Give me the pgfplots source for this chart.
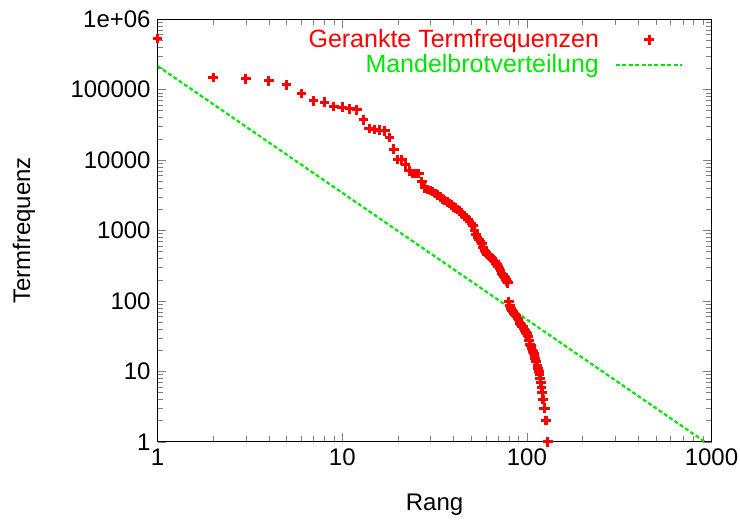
\documentclass[border=0pt]{standalone}
\usepackage{pgfplots}
\pgfplotsset{compat=1.18}
\usepackage{pgfplotstable}
\usepackage{fontspec}
\setmainfont{Liberation Sans}

\definecolor{gpred}{RGB}{255,0,0}
\definecolor{gpgreen}{RGB}{0,230,0}

\pgfplotsset{
  markleg/.style={legend image code/.code={\draw[mark repeat=2,mark phase=2,##1] plot coordinates {(0pt,0pt) (16.5pt,0pt) (33pt,0pt)};}},
  lineleg/.style={legend image code/.code={\draw[##1] (0pt,0pt) -- (33pt,0pt);}},
}

% rank, term frequency
\pgfplotstableread{
r f
1 532000
2 147000
3 141000
4 133000
5 116000
6 88000
7 69000
8 66000
9 57000
10 55900
11 52900
12 51200
13 36900
14 28000
15 27200
16 26600
17 26000
18 20700
19 14300
20 10200
21 10000
22 8690
23 6980
24 6460
25 6460
26 6460
27 4920
28 4010
29 3800
30 3670
31 3550
32 3350
33 3160
34 2990
35 2820
36 2660
37 2540
38 2400
39 2290
40 2160
41 2070
42 1970
43 1880
44 1780
45 1680
46 1580
47 1510
48 1430
49 1350
50 1260
51 1160
52 1000
53 871
54 804
55 741
56 700
57 653
58 575
59 513
60 484
61 462
62 447
63 427
64 407
65 394
66 376
67 363
68 343
69 324
70 305
71 285
72 266
73 245
74 234
75 224
76 214
77 204
78 191
79 180
80 98
81 87
82 78
83 72
84 70
85 67
86 65
87 62
88 60
89 57
90 54
91 50
92 48
93 46
94 44
95 43
96 41
97 39
98 38
99 36
100 34
101 32
102 31
103 27
104 24
105 23
106 21
107 20
108 19
109 18
110 17
111 15
112 14
113 14
114 12
115 11
116 10
117 9
118 8
119 7
120 6
121 5
122 4
123 4
124 3
125 3
126 2
127 2
128 2
129 1
130 1
}\termdata

\begin{document}
\begin{tikzpicture}
\useasboundingbox (-78.85pt,-39pt) rectangle (291.25pt,221pt);
\begin{axis}[
  scale only axis,
  width=277pt, height=211.5pt,
  xmode=log, ymode=log,
  xmin=1, xmax=1000, ymin=1, ymax=1e6,
  xtick={1,10,100,1000},
  xticklabels={1,10,100,1000},
  ytick={1,10,100,1000,10000,100000,1000000},
  yticklabels={1,10,100,1000,10000,100000,1e+06},
  minor xtick={2,3,4,5,6,7,8,9,20,30,40,50,60,70,80,90,200,300,400,500,600,700,800,900},
  minor ytick={2,3,4,5,6,7,8,9,20,30,40,50,60,70,80,90,200,300,400,500,600,700,800,900,
    2000,3000,4000,5000,6000,7000,8000,9000,20000,30000,40000,50000,60000,70000,80000,90000,
    200000,300000,400000,500000,600000,700000,800000,900000},
  tick label style={font=\fontsize{12}{14.4}\selectfont},
  label style={font=\fontsize{12}{14.4}\selectfont},
  xlabel={Rang},
  ylabel={Termfrequenz},
  xlabel style={at={(axis description cs:0.5,-0.149)}, anchor=center},
  ylabel style={at={(axis description cs:-0.2413,0.5)}, anchor=center},
  legend style={at={(axis description cs:1,1)}, anchor=north east,
    xshift=-11pt, yshift=-1pt, draw=none, fill=none,
    column sep=6pt, row sep=-2pt, font=\fontsize{12.5}{14.4}\selectfont},
  legend cell align=right,
  legend plot pos=right,
]
\addplot[only marks, mark=+, color=gpred, mark size=2.4pt,
  mark options={line width=1.5pt}, markleg]
  table[x=r, y=f] {\termdata};
\addlegendentry{\textcolor{gpred}{Gerankte Termfrequenzen}}
\addplot[gpgreen, line width=1.1pt, dash pattern=on 2pt off 1.2pt, lineleg]
  coordinates {(1,215000) (922,1)};
\addlegendentry{\textcolor{gpgreen}{Mandelbrotverteilung}}
\end{axis}
\end{tikzpicture}
\end{document}
